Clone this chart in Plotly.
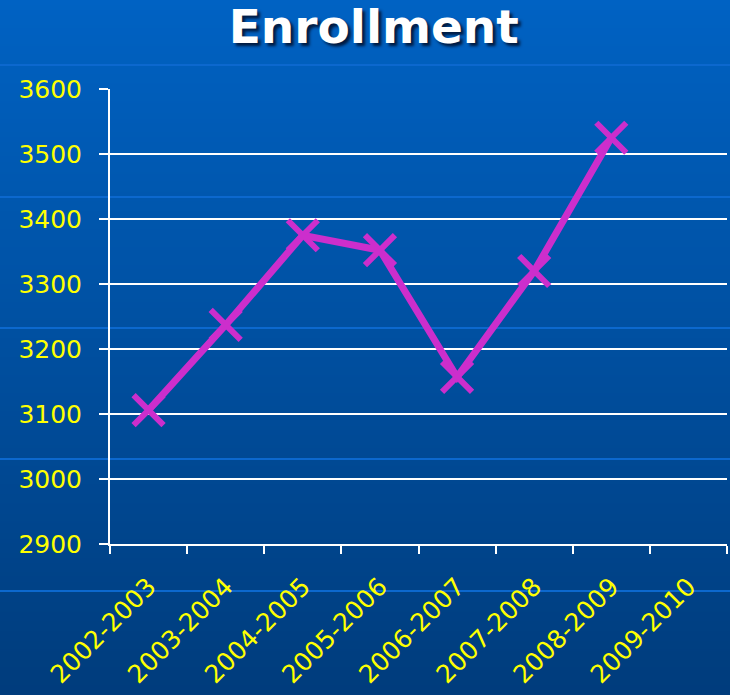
import base64
import struct
import zlib

import plotly.graph_objects as go

# ---- data ----
years = ["2002-2003", "2003-2004", "2004-2005", "2005-2006",
         "2006-2007", "2007-2008", "2008-2009", "2009-2010"]
enrollment = [3106, 3237, 3375, 3352, 3157, 3320, 3525, None]
y_ticks = [2900, 3000, 3100, 3200, 3300, 3400, 3500, 3600]

W, H = 730, 695


def make_bg_png(w=4, h=H):
    top = (0, 98, 195)
    bot = (0, 60, 124)
    line_rows = {64, 65, 196, 197, 327, 328, 458, 459, 590, 591}
    raw = b""
    for r in range(h):
        t = r / (h - 1)
        c = tuple(int(round(top[i] + (bot[i] - top[i]) * t)) for i in range(3))
        if r in line_rows:
            c = (12, 104, 206)
        raw += b"\x00" + bytes(c) * w

    def chunk(tag, data):
        return (struct.pack(">I", len(data)) + tag + data +
                struct.pack(">I", zlib.crc32(tag + data) & 0xFFFFFFFF))

    png = b"\x89PNG\r\n\x1a\n"
    png += chunk(b"IHDR", struct.pack(">IIBBBBB", w, h, 8, 2, 0, 0, 0))
    png += chunk(b"IDAT", zlib.compress(raw, 9))
    png += chunk(b"IEND", b"")
    return "data:image/png;base64," + base64.b64encode(png).decode()


L, R, T, B = 110, 3, 89, 151
pw, ph = W - L - R, H - T - B

fig = go.Figure()
fig.add_trace(go.Scatter(
    x=years, y=enrollment, mode="lines+markers",
    line=dict(color="#CC2ECC", width=7),
    marker=dict(symbol="x-thin", size=30, color="#CC2ECC",
                line=dict(color="#CC2ECC", width=6)),
    connectgaps=False, showlegend=False,
))

fig.add_layout_image(dict(
    source=make_bg_png(), xref="paper", yref="paper",
    x=-L / pw, y=1 + T / ph, sizex=W / pw, sizey=H / ph,
    xanchor="left", yanchor="top", sizing="stretch", layer="below",
))

fig.update_layout(
    width=W, height=H,
    margin=dict(l=L, r=R, t=T, b=B),
    paper_bgcolor="#004a99",
    plot_bgcolor="rgba(0,0,0,0)",
    title=dict(
        text="<b>Enrollment</b>", xref="container", x=0.512, xanchor="center",
        yref="container", y=0.962, yanchor="middle",
        font=dict(family="DejaVu Sans", size=47, color="white",
                  shadow="3px 3px 3px #001a40"),
    ),
    font=dict(family="DejaVu Sans", color="#FFFF00", size=25),
)

fig.update_xaxes(
    type="category", categoryarray=years, range=[-0.5, 7.5],
    tickson="boundaries", ticks="outside", ticklen=8, tickwidth=2,
    tickcolor="white", showline=True, linecolor="white", linewidth=2,
    showgrid=False, tickangle=-45, ticklabelstandoff=16,
    tickfont=dict(size=25, color="#FFFF00"),
)
fig.update_yaxes(
    range=[2900, 3600], tickvals=y_ticks, ticks="outside", ticklen=9,
    tickwidth=2, tickcolor="white", showline=True, linecolor="white",
    linewidth=2, showgrid=True, gridcolor="white", gridwidth=2,
    zeroline=False, ticklabelstandoff=12,
    tickfont=dict(size=25, color="#FFFF00"),
)

fig.write_html(
    "out.html",
    config={"displayModeBar": False},
    post_script="document.body.style.margin='0';document.body.style.overflow='hidden';",
)
